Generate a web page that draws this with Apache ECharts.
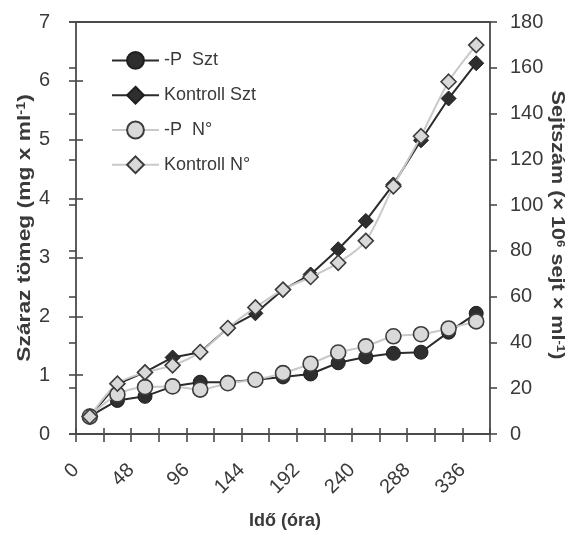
<!DOCTYPE html>
<html>
<head>
<meta charset="utf-8">
<script src="https://cdn.jsdelivr.net/npm/echarts@6/dist/echarts.min.js"></script>
<style>
  html, body { margin: 0; padding: 0; background: #ffffff; }
  #chart { width: 574px; height: 535px; }
</style>
</head>
<body>
<div id="chart"></div>
<script>
// Sampling times (hours)
const hours = [12, 36, 60, 84, 108, 132, 156, 180, 204, 228, 252, 276, 300, 324, 348];
// Dry mass, mg/ml (left axis)
const pSzt = [0.30, 0.57, 0.64, 0.81, 0.88, 0.88, 0.92, 0.97, 1.02, 1.21, 1.31, 1.37, 1.39, 1.73, 2.05];
const kontrollSzt = [0.30, 0.85, 1.05, 1.30, 1.39, 1.80, 2.05, 2.45, 2.71, 3.14, 3.62, 4.24, 4.99, 5.70, 6.30];
// Cell count, 10^6 cells/ml (right axis)
const pN = [7.6, 17.3, 20.5, 20.8, 19.4, 22.2, 23.7, 26.6, 30.7, 35.6, 38.3, 42.7, 43.6, 46.1, 49.2];
const kontrollN = [7.6, 22.0, 26.9, 30.0, 35.8, 46.3, 55.3, 63.1, 68.6, 74.8, 84.4, 108.2, 130.1, 153.9, 169.9];
// Axis ranges and tick steps
const xTicks = { min: 0, max: 360, step: 24, labelStep: 48 };
const leftTicks = { min: 0, max: 7, step: 1 };
const rightTicks = { min: 0, max: 180, step: 20 };

const seriesNames = ['-P  Szt', 'Kontroll Szt', '-P  N°', 'Kontroll N°'];

const ink = '#3a3a3a';
const axisInk = '#4a4a4a';
const tickFont = "'Liberation Sans Narrow', 'Liberation Sans', Arial, sans-serif";
const textFont = "'Liberation Sans', Arial, sans-serif";

const pairs = vals => hours.map((h, i) => [h, vals[i]]);

const darkLine = { color: '#2b2b2b', width: 2 };
const lightLine = { color: '#c9c9c9', width: 2 };
const darkMark = { color: '#2e2e2e', borderColor: '#1e1e1e', borderWidth: 1 };
const lightMark = { color: '#d9d9d9', borderColor: '#3c3c3c', borderWidth: 1.6 };

const chart = echarts.init(document.getElementById('chart'), null, { renderer: 'canvas' });

const valueAxisBase = {
  type: 'value',
  splitLine: { show: false },
  axisLine: { show: true, onZero: false, lineStyle: { color: axisInk, width: 1.8 } },
  axisTick: { show: true, length: 7, lineStyle: { color: axisInk, width: 1.6 } }
};

chart.setOption({
  animation: false,
  backgroundColor: '#ffffff',
  grid: { left: 76, right: 84, top: 22, bottom: 101, containLabel: false },
  legend: {
    orient: 'vertical',
    left: 106,
    top: 46,
    itemWidth: 47,
    itemHeight: 21,
    itemGap: 16,
    data: seriesNames,
    textStyle: { fontFamily: textFont, fontSize: 18, color: ink }
  },
  xAxis: [
    Object.assign({}, valueAxisBase, {
      position: 'bottom',
      min: xTicks.min, max: xTicks.max, interval: xTicks.step,
      axisTick: { show: true, length: 8, lineStyle: { color: axisInk, width: 1.6 } },
      axisLabel: {
        rotate: 45, margin: 33, fontSize: 20, fontFamily: tickFont, color: ink,
        showMaxLabel: true,
        formatter: v => (v % xTicks.labelStep === 0 && v < xTicks.max) ? String(v) : ''
      }
    }),
    Object.assign({}, valueAxisBase, {
      position: 'bottom',
      min: xTicks.min, max: xTicks.max, interval: xTicks.step,
      axisLine: { show: false },
      axisTick: { show: true, inside: true, length: 6, lineStyle: { color: axisInk, width: 1.6 } },
      axisLabel: { show: false }
    }),
    Object.assign({}, valueAxisBase, {
      position: 'top',
      min: xTicks.min, max: xTicks.max, interval: xTicks.step,
      axisTick: { show: false },
      axisLabel: { show: false }
    })
  ],
  yAxis: [
    Object.assign({}, valueAxisBase, {
      position: 'left',
      min: leftTicks.min, max: leftTicks.max, interval: leftTicks.step,
      axisLabel: { margin: 26, fontSize: 20, fontFamily: tickFont, color: ink }
    }),
    Object.assign({}, valueAxisBase, {
      position: 'right',
      min: rightTicks.min, max: rightTicks.max, interval: rightTicks.step,
      axisLabel: { margin: 20, fontSize: 20, fontFamily: tickFont, color: ink }
    }),
    Object.assign({}, valueAxisBase, {
      position: 'left',
      min: leftTicks.min, max: leftTicks.max, interval: leftTicks.step,
      axisLine: { show: false },
      axisTick: { show: true, inside: true, length: 7, lineStyle: { color: axisInk, width: 1.6 } },
      axisLabel: { show: false }
    }),
    Object.assign({}, valueAxisBase, {
      position: 'right',
      min: rightTicks.min, max: rightTicks.max, interval: rightTicks.step,
      axisLine: { show: false },
      axisTick: { show: true, inside: true, length: 7, lineStyle: { color: axisInk, width: 1.6 } },
      axisLabel: { show: false }
    })
  ],
  series: [
    {
      name: seriesNames[0], type: 'line', xAxisIndex: 0, yAxisIndex: 0,
      data: pairs(pSzt), symbol: 'circle', symbolSize: 14,
      lineStyle: darkLine, itemStyle: darkMark, z: 2
    },
    {
      name: seriesNames[1], type: 'line', xAxisIndex: 0, yAxisIndex: 0,
      data: pairs(kontrollSzt), symbol: 'diamond', symbolSize: 15,
      lineStyle: darkLine, itemStyle: darkMark, z: 2
    },
    {
      name: seriesNames[2], type: 'line', xAxisIndex: 0, yAxisIndex: 1,
      data: pairs(pN), symbol: 'circle', symbolSize: 15, smooth: 0.3,
      lineStyle: lightLine, itemStyle: lightMark, z: 3
    },
    {
      name: seriesNames[3], type: 'line', xAxisIndex: 0, yAxisIndex: 1,
      data: pairs(kontrollN), symbol: 'diamond', symbolSize: 15, smooth: 0.3,
      lineStyle: lightLine, itemStyle: lightMark, z: 3
    }
  ],
  graphic: [
    {
      type: 'text', x: 25, y: 228, rotation: Math.PI / 2, scaleX: 1.2,
      style: {
        text: 'Száraz tömeg (mg x ml{sup|-1})',
        font: "bold 19px 'Liberation Sans', Arial, sans-serif",
        fill: ink, align: 'center', verticalAlign: 'middle',
        rich: { sup: { fontSize: 12, fontWeight: 'bold', verticalAlign: 'top', fill: ink } }
      }
    },
    {
      type: 'text', x: 557, y: 225, rotation: -Math.PI / 2, scaleX: 1.2,
      style: {
        text: 'Sejtszám (× 10{sup|6} sejt × ml{sup|-1})',
        font: "bold 18px 'Liberation Sans', Arial, sans-serif",
        fill: ink, align: 'center', verticalAlign: 'middle',
        rich: { sup: { fontSize: 11, fontWeight: 'bold', verticalAlign: 'top', fill: ink } }
      }
    },
    {
      type: 'text', x: 285, y: 521,
      style: {
        text: 'Idő (óra)',
        font: "bold 18px 'Liberation Sans', Arial, sans-serif",
        fill: ink, align: 'center', verticalAlign: 'middle'
      }
    }
  ]
});
</script>
</body>
</html>
